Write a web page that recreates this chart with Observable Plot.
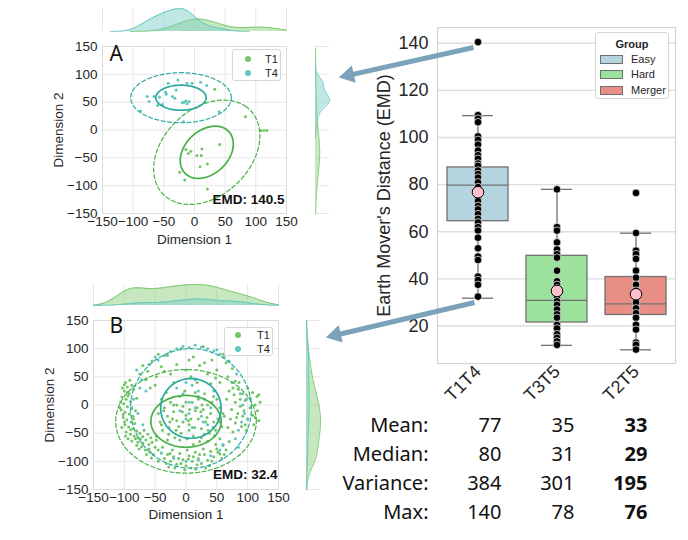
<!DOCTYPE html>
<html><head><meta charset="utf-8">
<script src="https://cdn.jsdelivr.net/npm/d3@7"></script>
<script src="https://cdn.jsdelivr.net/npm/@observablehq/plot@0.6"></script>
<style>
body{margin:0;background:#fff;}
#fig{position:relative;width:688px;height:540px;overflow:hidden;background:#fff;font-family:"Liberation Sans",Arial,sans-serif;color:#262626;}
#fig svg{position:absolute;}
.leg{position:absolute;background:#fff;border:1px solid #d6d6d6;border-radius:3px;font-size:11px;color:#262626;box-sizing:border-box;}
.leg span{position:absolute;white-space:nowrap;line-height:12px;}
</style></head><body><div id="fig"></div><script>
// ---------------- data ----------------
const dimTicks = [-150,-100,-50,0,50,100,150];
const seriesNames = ["T1","T4"];
// Panel A (EMD 140.5)
const panelA_T1 = [[83,24],[108,-1],[113,-1],[118,-1],[41,-26],[12,-34],[-6,-38],[4,-46],[11,-46],[9,-66],[21,-61],[-24,-76],[-16,-90],[21,-106],[33,73],[-14,-35],[-10,-42]];
const panelA_T4 = [[-43,84],[-27,90],[-12,84],[10,86],[-4,84],[20,80],[-47,68],[-46,64],[-66,60],[-77,60],[-57,59],[-74,51],[-88,34],[-52,46],[-60,44],[-17,50],[-14,52],[-9,51],[-12,47],[-20,49],[-36,60],[-32,57],[-18,15],[40,33],[-30,72]];
// 1-sigma ellipses: centre, semi-axes, angle (deg)
const ellipsesA = [{g:"T1",cx:20,cy:-40,sx:52,sy:37,angle:52},{g:"T4",cx:-22,cy:58,sx:41,sy:22.5,angle:0}];
const emdA = "EMD: 140.5";
// Panel B (EMD 32.4)
const panelB_T1 = [
[-98,40],[-95,32],[-100,25],[-92,20],[-104,14],[-97,10],[-90,6],[-101,2],[-95,-3],[-88,-6],[-105,-9],[-99,-13],[-92,-16],[-86,-20],[-102,-22],[-96,-26],[-89,-30],[-83,-33],[-99,-35],[-93,-39],[-86,-42],[-80,-46],[-97,-48],[-90,-52],[-84,-55],[-94,-60],[-78,-58],[-88,-64],[-103,30],[-107,-5],[-91,44],[-85,28],[-80,12],[-82,-10],[-104,-40],
[-100,36],[-94,16],[-102,-17],[-90,-44],[-98,-55],[-85,-25],[-95,22],[-88,35],[-106,5],[-100,-30],
[-75,-50],[-70,-56],[-78,-66],[-65,-62],[-60,-70],[-72,-74],[-55,-66],[-50,-75],[-66,-80],[-58,-84],[-48,-62],[-62,-52],[-80,-72],[-53,-88],[-45,-80],[-68,-45],[-57,-58],[-74,-60],
[-76,-78],[-64,-88],[-70,-68],[-82,-60],[-56,-94],[-60,-78],
[-40,-85],[-35,-95],[-30,-88],[-25,-100],[-20,-92],[-15,-105],[-10,-86],[-5,-97],[0,-108],[5,-90],[10,-100],[15,-84],[20,-95],[25,-104],[30,-88],[35,-98],[40,-82],[45,-92],[50,-78],[55,-87],[60,-72],[65,-80],[-45,-100],[-28,-110],[8,-112],[-12,-95],[28,-78],[48,-70],[-38,-75],[2,-80],[18,-106],[38,-108],[58,-95],[-22,-80],[70,-65],[-2,-115],
[-32,-104],[-18,-112],[12,-92],[22,-88],[32,-112],[42,-100],[52,-84],[62,-88],[-8,-104],[4,-96],[-26,-86],[16,-114],
[-40,10],[-35,-5],[-30,-20],[-42,-30],[-25,5],[-20,-12],[-15,-28],[-38,-45],[-28,-40],[-10,15],[-5,-2],[0,-18],[5,-35],[-8,-50],[-18,-58],[10,5],[15,-10],[20,-25],[25,-42],[12,-55],[30,20],[35,0],[40,-15],[45,-30],[38,-50],[50,10],[55,-5],[52,-25],[48,-45],[58,-38],[-45,-15],[-32,22],[-12,-38],[2,-60],[22,-65],[8,-25],[18,-5],[28,-8],[32,-30],[42,5],[-22,-25],[-2,25],[15,22],[25,-58],[-30,-62],[60,-15],[5,-45],[35,-65],[-15,0],[0,5],[45,15],[55,-60],[-48,-55],[20,10],[-5,-30],
[-36,-10],[-26,-30],[-16,-45],[-6,-12],[4,-28],[14,-40],[24,-12],[34,-22],[44,-40],[54,-30],[-40,-35],[-20,0],[6,-8],[26,0],[36,-45],[-10,-62],[12,-70],[30,-52],[46,-55],[-28,-52],
[70,25],[78,18],[85,28],[92,20],[100,30],[108,22],[115,15],[120,5],[112,0],[104,-5],[96,8],[88,-2],[80,5],[74,-8],[66,10],[84,-15],[92,-20],[100,-25],[108,-18],[116,-10],[72,-25],[80,-32],[90,-38],[98,-45],[68,-40],[76,-48],[110,-35],[118,-28],[86,40],[62,-20],
[104,12],[112,-22],[94,-10],[82,-22],[76,30],[118,18],[96,-35],[88,10],
[-70,70],[-62,60],[-55,78],[-48,50],[-40,68],[-30,88],[-25,55],[-15,72],[-8,100],[0,62],[8,50],[12,85],[22,70],[28,104],[35,55],[42,80],[50,62],[60,90],[68,50],[75,65],[80,42],[-65,45],[-20,40],[18,40],[55,40],[-75,55],[-50,35],[40,38],
[-45,90],[5,80],[30,75],[65,75],[-35,60],[-58,30],[48,48]];
const panelB_T4 = [[-35,88],[-25,95],[-15,100],[-5,104],[5,102],[15,106],[25,103],[35,100],[45,96],[55,90],[62,85],[-45,80],[70,78],
[-80,62],[-72,45],[-65,25],[-85,10],[-78,-15],[-70,-35],[-60,72],
[88,20],[92,0],[95,-15],[90,-30],[85,-45],[80,-60],[75,40],[98,10],
[0,40],[10,35],[20,25],[30,10],[-5,20],[5,5],[15,-5],[25,-20],[35,-35],[-10,-10],[0,-25],[10,-40],[20,15],[40,-5],[45,25],
[-20,-95],[0,-100],[20,-98],[40,-90],[-40,-85],[55,-80],
[-50,85],[50,98],[82,55],[100,-25],[85,-75],[-88,-5],[-75,30],[15,45],[28,-30],[-15,30],[5,-15],[60,-70]];
const ellipsesB = [{g:"T1",cx:0,cy:-29,sx:57,sy:46,angle:0},{g:"T4",cx:8,cy:-6,sx:49,sy:53,angle:0}];
const emdB = "EMD: 32.4";
// Box plot
const boxGroups = ["T1T4","T3T5","T2T5"];
const boxLegend = ["Easy","Hard","Merger"];
const boxQ1 = [64.5,21.5,24.7];
const boxMedian = [79.8,30.9,29.4];
const boxQ3 = [87.3,49.8,40.8];
const whiskerLo = [31.8,11.8,9.9];
const whiskerHi = [109.3,78,59.4];
const boxMean = [76.8,34.9,33.5];
const emdT1T4 = [140.5,109.5,108,106.5,100.5,99,97,94.5,92.5,91,89,88,86,84.5,83,81,79,77,75,73,71,69.5,67.5,65.5,64,62,60.5,57.5,53,49.5,48,41,39.5,37.5,32.5];
const emdT3T5 = [78,62,60.5,55.5,52.5,50.5,49,43.5,39,37.5,36,32,30.5,29,27,25,23.5,20.5,19,16.5,15,13.5,12];
const emdT2T5 = [76.5,59.5,52,50.5,48.5,43.5,40.5,37.5,35,31,30,27.5,25.5,23.5,20.5,18.5,13,12,10];
const emdTicks = [20,40,60,80,100,120,140];
// Stats table
const statRows = ["Mean:","Median:","Variance:","Max:"];
const statT1T4 = [77,80,384,140];
const statT3T5 = [35,31,301,78];
const statT2T5 = [33,29,195,76];
// Arrow annotations (page pixels): from, to
const arrowFrom = [[473,47],[474,302]];
const arrowTo = [[338,77],[325,337]];

// ---------------- style ----------------
const fig = document.getElementById("fig");
const FONT = '"Liberation Sans", Arial, sans-serif';
const PT = {T1:"#72c564", T4:"#5ec6be"};
const LN = {T1:"#45b045", T4:"#2ca8a2"};
const FILL = {T1:"#8fd27f", T4:"#7fd0c8"};
const boxFills = ["#b4d4df","#9ce29c","#e98e84"];
const GRID = "#e8e8e8", FRAME = "#dcdcdc";
const fmt = d => d < 0 ? "\u2212" + Math.abs(d) : String(d);
function place(el, left, top){ el.style.left = left + "px"; el.style.top = top + "px"; fig.appendChild(el); }
function baseStyle(size){ return {fontFamily: FONT, fontSize: size + "px", color: "#262626", background: "transparent", overflow: "visible"}; }
const toObj = a => a.map(([x,y]) => ({x, y}));

function ellipsePath(e, k){
  const t = e.angle * Math.PI / 180;
  return d3.range(0, 361, 3).map(a => {
    const u = a * Math.PI / 180, px = k * e.sx * Math.cos(u), py = k * e.sy * Math.sin(u);
    return {x: e.cx + px * Math.cos(t) - py * Math.sin(t), y: e.cy + px * Math.sin(t) + py * Math.cos(t)};
  });
}
function kde(vals, total){
  const n = vals.length, bw = d3.deviation(vals) * Math.pow(n, -0.2);
  const lo = Math.max(-150, d3.min(vals) - 3 * bw), hi = Math.min(150, d3.max(vals) + 3 * bw);
  return d3.range(0, 201).map(i => {
    const v = lo + (hi - lo) * i / 200;
    return {v, d: d3.sum(vals, u => Math.exp(-0.5 * ((v - u) / bw) ** 2)) / (bw * Math.sqrt(2 * Math.PI)) / total};
  });
}

function scatterPanel(o){
  const marks = [
    Plot.gridX({ticks: dimTicks, stroke: GRID, strokeOpacity: 1}),
    Plot.gridY({ticks: dimTicks, stroke: GRID, strokeOpacity: 1}),
    Plot.frame({stroke: FRAME}),
    Plot.axisX({ticks: dimTicks, tickSize: 0, tickPadding: 3, tickFormat: fmt, label: null}),
    Plot.axisY({ticks: dimTicks, tickSize: 0, tickPadding: 5, tickFormat: fmt, label: null}),
    Plot.dot(toObj(o.t1), {x: "x", y: "y", r: 1.5, fill: PT.T1}),
    Plot.dot(toObj(o.t4), {x: "x", y: "y", r: 1.5, fill: PT.T4})
  ];
  for (const e of o.ells) for (const k of [2, 1]) {
    marks.push(Plot.line(ellipsePath(e, k), k === 1
      ? {x: "x", y: "y", stroke: LN[e.g], strokeWidth: 1.7}
      : {x: "x", y: "y", stroke: LN[e.g], strokeWidth: 1.2, strokeDasharray: "4,2.5"}));
  }
  marks.push(
    Plot.text([o.letter], {frameAnchor: "top-left", dx: o.ldx, dy: o.ldy, lineAnchor: "top", textAnchor: "start", fontSize: 21, fontFamily: '"Noto Sans", sans-serif', fill: "#111"}),
    Plot.text([o.emd], {frameAnchor: "bottom-right", dx: o.edx, dy: o.edy, lineAnchor: "bottom", textAnchor: "end", fontWeight: "bold", fontSize: 13.5, fill: "#111"}),
    Plot.text(["Dimension 1"], {frameAnchor: "bottom", dy: o.xdy, lineAnchor: "bottom", textAnchor: "middle", fontSize: 13.5}),
    Plot.text(["Dimension 2"], {frameAnchor: "left", dx: o.ydx, rotate: -90, lineAnchor: "middle", textAnchor: "middle", fontSize: 13.5})
  );
  const svg = Plot.plot({
    width: o.w, height: o.h, marginLeft: o.ml, marginRight: o.mr, marginTop: o.mt, marginBottom: o.mb,
    x: {domain: [-150, 150]}, y: {domain: [-150, 150]},
    style: baseStyle(13.5), marks
  });
  place(svg, o.left, o.top);

  // marginal densities (common normalisation)
  const N = o.t1.length + o.t4.length;
  const kx1 = kde(o.t1.map(d => d[0]), N), kx4 = kde(o.t4.map(d => d[0]), N);
  const ky1 = kde(o.t1.map(d => d[1]), N), ky4 = kde(o.t4.map(d => d[1]), N);
  const mx = d3.max([...kx1, ...kx4], d => d.d), my = d3.max([...ky1, ...ky4], d => d.d);
  const top = Plot.plot({
    width: o.w, height: o.th, marginLeft: o.ml, marginRight: o.mr, marginTop: o.tmt, marginBottom: 1,
    x: {domain: [-150, 150], axis: null}, y: {domain: [0, mx], axis: null},
    style: baseStyle(13.5),
    marks: [
      Plot.gridX({ticks: dimTicks, stroke: GRID, strokeOpacity: 1}),
      Plot.areaY(kx1, {x: "v", y: "d", fill: FILL.T1, fillOpacity: 0.5}),
      Plot.lineY(kx1, {x: "v", y: "d", stroke: PT.T1, strokeWidth: 1}),
      Plot.areaY(kx4, {x: "v", y: "d", fill: FILL.T4, fillOpacity: 0.5}),
      Plot.lineY(kx4, {x: "v", y: "d", stroke: PT.T4, strokeWidth: 1})
    ]
  });
  place(top, o.left, o.ttop);
  const right = Plot.plot({
    width: o.rw, height: o.h, marginLeft: o.rml, marginRight: o.rmr, marginTop: o.mt, marginBottom: o.mb,
    y: {domain: [-150, 150], axis: null}, x: {domain: [0, my], axis: null},
    style: baseStyle(13.5),
    marks: [
      Plot.gridY({ticks: dimTicks, stroke: GRID, strokeOpacity: 1}),
      Plot.areaX(ky1, {y: "v", x: "d", fill: FILL.T1, fillOpacity: 0.5}),
      Plot.lineX(ky1, {y: "v", x: "d", stroke: PT.T1, strokeWidth: 1}),
      Plot.areaX(ky4, {y: "v", x: "d", fill: FILL.T4, fillOpacity: 0.5}),
      Plot.lineX(ky4, {y: "v", x: "d", stroke: PT.T4, strokeWidth: 1})
    ]
  });
  place(right, o.rleft, o.top);

  // legend
  const lg = document.createElement("div");
  lg.className = "leg";
  Object.assign(lg.style, {left: o.lg[0] + "px", top: o.lg[1] + "px", width: o.lg[2] + "px", height: o.lg[3] + "px"});
  seriesNames.forEach((s, i) => {
    const dot = document.createElement("span");
    Object.assign(dot.style, {left: (o.lgDot - 3) + "px", top: (o.lgRows[i] - 3) + "px", width: "6px", height: "6px", borderRadius: "3px", background: PT[s]});
    const t = document.createElement("span");
    t.textContent = s;
    Object.assign(t.style, {left: o.lgText + "px", top: (o.lgRows[i] - 6) + "px"});
    lg.appendChild(dot); lg.appendChild(t);
  });
  fig.appendChild(lg);
}

scatterPanel({t1: panelA_T1, t4: panelA_T4, ells: ellipsesA, letter: "A", emd: emdA,
  left: 0, top: 36, w: 300, h: 220, ml: 102, mr: 14, mt: 10, mb: 43,
  ldx: 7, ldy: 0, edx: -2, edy: -10, xdy: 30, ydx: -44,
  ttop: 0, th: 32, tmt: 8, rleft: 300, rw: 40, rml: 15, rmr: 11,
  lg: [232, 49, 49, 32], lgDot: 15, lgText: 32, lgRows: [9, 23]});
scatterPanel({t1: panelB_T1, t4: panelB_T4, ells: ellipsesB, letter: "B", emd: emdB,
  left: 0, top: 306, w: 300, h: 230, ml: 93, mr: 22, mt: 14, mb: 47,
  ldx: 16, ldy: -2, edx: -1, edy: -11, xdy: 29, ydx: -44,
  ttop: 280, th: 26, tmt: 4, rleft: 300, rw: 40, rml: 6, rmr: 20,
  lg: [224, 327, 49, 29], lgDot: 13, lgText: 32, lgRows: [7, 21]});

// ---------------- box plot ----------------
const boxData = boxGroups.map((g, i) => ({g, q1: boxQ1[i], med: boxMedian[i], q3: boxQ3[i], lo: whiskerLo[i], hi: whiskerHi[i], mean: boxMean[i]}));
const dots = [
  ...emdT1T4.map(v => ({g: "T1T4", v})),
  ...emdT3T5.map(v => ({g: "T3T5", v})),
  ...emdT2T5.map(v => ({g: "T2T5", v}))
];
const boxSvg = Plot.plot({
  width: 348, height: 420, marginLeft: 97, marginRight: 13, marginTop: 27, marginBottom: 57,
  x: {type: "band", domain: boxGroups, padding: 0},
  y: {domain: [4.1, 146.7]},
  color: {domain: boxGroups, range: boxFills},
  style: baseStyle(18),
  marks: [
    Plot.gridY({ticks: emdTicks, stroke: "#dedede", strokeOpacity: 1, strokeWidth: 1.4}),
    Plot.frame({stroke: "#d4d4d4", strokeWidth: 1.2}),
    Plot.axisY({ticks: emdTicks, tickSize: 0, tickPadding: 9, label: null}),
    Plot.axisX({tickSize: 0, tickPadding: 5, tickRotate: -45, label: null}),
    Plot.ruleX(boxData, {x: "g", y1: "lo", y2: "q1", stroke: "#707070", strokeWidth: 1.3}),
    Plot.ruleX(boxData, {x: "g", y1: "q3", y2: "hi", stroke: "#707070", strokeWidth: 1.3}),
    Plot.tickY(boxData, {x: "g", y: "lo", stroke: "#707070", strokeWidth: 1.3, inset: 24}),
    Plot.tickY(boxData, {x: "g", y: "hi", stroke: "#707070", strokeWidth: 1.3, inset: 24}),
    Plot.barY(boxData, {x: "g", y1: "q1", y2: "q3", fill: "g", stroke: "#707070", strokeWidth: 1.3, insetLeft: 9, insetRight: 9}),
    Plot.tickY(boxData, {x: "g", y: "med", stroke: "#707070", strokeWidth: 1.3, inset: 9}),
    Plot.dot(dots, {x: "g", y: "v", r: 3.8, fill: "#000", stroke: "#fff", strokeWidth: 0.7}),
    Plot.dot(boxData, {x: "g", y: "mean", r: 5.8, fill: "#ffc0cb", stroke: "#000", strokeWidth: 1}),
    Plot.text(["Earth Mover's Distance (EMD)"], {frameAnchor: "left", dx: -53, rotate: -90, lineAnchor: "middle", textAnchor: "middle", fontSize: 18})
  ]
});
place(boxSvg, 340, 0);

// box legend
{
  const lg = document.createElement("div");
  lg.className = "leg";
  Object.assign(lg.style, {left: "595px", top: "32px", width: "74px", height: "67px"});
  const ttl = document.createElement("span");
  ttl.textContent = "Group";
  Object.assign(ttl.style, {left: "0", width: "72px", textAlign: "center", top: "5px", fontWeight: "bold"});
  lg.appendChild(ttl);
  boxLegend.forEach((s, i) => {
    const y = [25.5, 41, 56.5][i];
    const p = document.createElement("span");
    Object.assign(p.style, {left: "4px", top: (y - 4) + "px", width: "21px", height: "7px", background: boxFills[i], border: "1px solid #707070"});
    const t = document.createElement("span");
    t.textContent = s;
    Object.assign(t.style, {left: "35px", top: (y - 6) + "px"});
    lg.appendChild(p); lg.appendChild(t);
  });
  fig.appendChild(lg);
}

// ---------------- stats table ----------------
const cols = ["label", ...boxGroups];
const cells = [];
statRows.forEach((r, i) => {
  cells.push({c: "label", r, t: r, b: false});
  cells.push({c: "T1T4", r, t: String(statT1T4[i]), b: false});
  cells.push({c: "T3T5", r, t: String(statT3T5[i]), b: false});
  cells.push({c: "T2T5", r, t: String(statT2T5[i]), b: true});
});
const tableSvg = Plot.plot({
  width: 348, height: 150, marginLeft: 0, marginRight: 0, marginTop: 0, marginBottom: 0,
  x: {type: "point", domain: cols, range: [87, 307], padding: 0, axis: null},
  y: {type: "point", domain: statRows, range: [45, 132], padding: 0, axis: null},
  style: {...baseStyle(20), fontFamily: '"Noto Sans", sans-serif', color: "#111"},
  marks: [
    Plot.text(cells.filter(d => !d.b), {x: "c", y: "r", text: "t", textAnchor: "end", lineAnchor: "middle", fontSize: 20, fill: "#111"}),
    Plot.text(cells.filter(d => d.b), {x: "c", y: "r", text: "t", textAnchor: "end", lineAnchor: "middle", fontSize: 20, fontWeight: "bold", fill: "#111"})
  ]
});
place(tableSvg, 340, 380);

// ---------------- arrows overlay ----------------
const arrows = arrowFrom.map((f, i) => {
  const t = arrowTo[i], dx = t[0] - f[0], dy = t[1] - f[1], L = Math.hypot(dx, dy), ux = dx / L, uy = dy / L;
  return {x1: f[0], y1: f[1], x2: t[0] - ux * 10, y2: t[1] - uy * 10, hx: t[0] - ux * 10.5, hy: t[1] - uy * 10.5, rot: Math.atan2(dy, dx) * 180 / Math.PI + 90};
});
const overlay = Plot.plot({
  width: 688, height: 540, margin: 0,
  x: {domain: [0, 688], range: [0, 688], axis: null},
  y: {domain: [0, 540], range: [0, 540], axis: null},
  style: baseStyle(12),
  marks: [
    Plot.link(arrows, {x1: "x1", y1: "y1", x2: "x2", y2: "y2", stroke: "#7aa3ba", strokeWidth: 5}),
    Plot.dot(arrows, {x: "hx", y: "hy", symbol: "triangle", r: 6.6, rotate: "rot", fill: "#7aa3ba", stroke: "none"})
  ]
});
overlay.style.pointerEvents = "none";
place(overlay, 0, 0);
</script></body></html>
